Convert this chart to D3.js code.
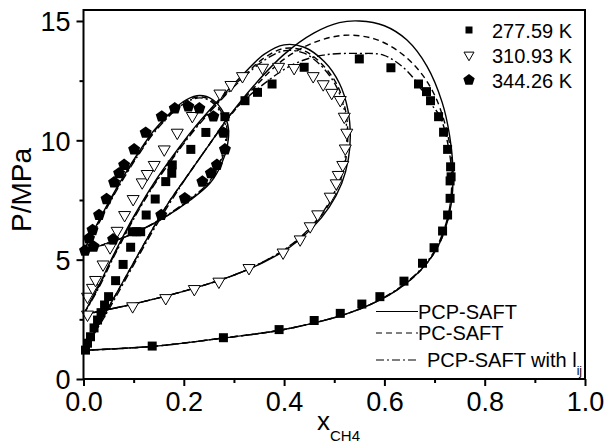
<!DOCTYPE html>
<html>
<head>
<meta charset="utf-8">
<script src="https://cdn.jsdelivr.net/npm/d3@7"></script>
<style>
  html, body { margin: 0; padding: 0; background: #fff; }
  svg { display: block; font-family: "Liberation Sans", Arial, sans-serif; }
</style>
</head>
<body>
<svg id="chart" width="608" height="445"></svg>
<script>
// Tick values and labels
const xTicks = [0, 0.2, 0.4, 0.6, 0.8, 1.0];
const xMinor = [0.1, 0.3, 0.5, 0.7, 0.9];
const yTicks = [0, 5, 10, 15];
const yMinor = [2.5, 7.5, 12.5];

// Experimental VLE data, [x_CH4, P/MPa]
const exp277 = [
  [0.004,1.21],[0.008,1.5],[0.014,1.77],[0.021,2.14],[0.028,2.47],[0.035,2.78],[0.042,3.1],[0.05,3.45],
  [0.064,4.12],[0.079,4.8],[0.094,5.52],[0.097,6.17],[0.106,6.17],[0.114,6.17],[0.125,6.87],[0.143,7.54],
  [0.164,8.27],[0.176,8.62],[0.177,8.97],[0.214,9.62],[0.244,10.33],[0.282,10.99],[0.322,11.66],[0.347,12.01],
  [0.376,12.36],[0.44,13.06],[0.55,13.41],[0.613,13.04],[0.668,12.36],[0.684,12.04],[0.692,11.66],[0.708,10.99],
  [0.718,10.34],[0.726,9.62],[0.732,8.89],[0.733,8.47],[0.731,8.3],[0.731,7.57],[0.726,6.87],[0.716,6.2],
  [0.699,5.5],[0.676,4.85],[0.639,4.1],[0.591,3.45],[0.555,3.14],[0.512,2.75],[0.46,2.45],[0.39,2.07],
  [0.279,1.73],[0.137,1.38]
];
const exp311 = [
  [0.008,2.7],[0.008,3.45],[0.018,3.82],[0.024,4.15],[0.039,4.8],[0.053,5.52],[0.067,6.21],[0.082,6.87],
  [0.099,7.54],[0.117,8.24],[0.127,8.59],[0.141,8.97],[0.161,9.62],[0.187,10.32],[0.217,11.02],[0.272,11.96],
  [0.294,12.32],[0.317,12.69],[0.357,13.04],[0.389,13.08],[0.42,13.03],[0.458,12.69],[0.478,12.35],[0.495,11.99],
  [0.512,11.69],[0.52,10.99],[0.525,10.32],[0.522,9.66],[0.517,8.97],[0.508,8.55],[0.504,8.2],[0.492,7.64],
  [0.467,6.9],[0.452,6.4],[0.432,5.85],[0.398,5.3],[0.33,4.65],[0.27,4.08],[0.221,3.77],[0.164,3.39],[0.098,3.05]
];
const exp344 = [
  [0.003,5.38],[0.011,5.89],[0.018,6.24],[0.031,6.87],[0.046,7.54],[0.061,8.24],[0.071,8.62],[0.081,8.97],
  [0.101,9.62],[0.124,10.32],[0.156,11.0],[0.182,11.34],[0.209,11.42],[0.231,11.34],[0.259,11.0],[0.279,10.32],
  [0.282,9.62],[0.266,8.97],[0.254,8.62],[0.237,8.27],[0.202,7.57],[0.155,6.87],[0.059,5.85],[0.02,5.55]
];

// Model phase envelopes, [x_CH4, P/MPa]
const pcpSaft277 = [
  [0.0,1.2],[0.02,1.9],[0.05,3.0],[0.09,4.5],[0.13,6.0],[0.17,7.4],[0.21,8.6],[0.25,9.8],[0.29,11.0],
  [0.34,12.3],[0.40,13.6],[0.46,14.5],[0.51,14.93],[0.55,15.0],[0.6,14.8],[0.645,14.2],[0.685,13.1],
  [0.715,11.6],[0.73,10.2],[0.737,8.6],[0.733,7.3],[0.72,6.2],[0.70,5.3],[0.67,4.5],[0.63,3.8],[0.58,3.2],
  [0.52,2.7],[0.45,2.3],[0.38,2.0],[0.28,1.72],[0.14,1.37],[0.0,1.2]
];
const pcSaft277 = [
  [0.0,1.2],[0.02,1.9],[0.05,3.0],[0.09,4.5],[0.13,6.0],[0.17,7.4],[0.21,8.6],[0.25,9.8],[0.29,10.95],
  [0.34,12.2],[0.40,13.4],[0.46,14.1],[0.52,14.4],[0.58,14.25],[0.63,13.7],[0.67,12.9],[0.70,11.9],
  [0.722,10.6],[0.734,9.3],[0.736,8.4],[0.732,7.3],[0.72,6.2],[0.70,5.3],[0.67,4.5],[0.63,3.8],[0.58,3.2],
  [0.52,2.7],[0.45,2.3],[0.38,2.0],[0.28,1.72],[0.14,1.37],[0.0,1.2]
];
const pcpLij277 = [
  [0.0,1.2],[0.02,1.85],[0.05,2.9],[0.09,4.4],[0.13,5.9],[0.17,7.3],[0.21,8.6],[0.25,9.8],[0.30,11.25],
  [0.365,12.45],[0.42,13.2],[0.478,13.57],[0.551,13.64],[0.598,13.57],[0.635,13.1],[0.66,12.55],[0.69,11.6],
  [0.711,10.99],[0.727,9.8],[0.734,8.6],[0.731,7.3],[0.718,6.2],[0.698,5.3],[0.668,4.5],[0.628,3.8],
  [0.58,3.2],[0.52,2.7],[0.45,2.3],[0.38,2.0],[0.28,1.72],[0.14,1.37],[0.0,1.2]
];
const pcpSaft311 = [
  [0.0,2.7],[0.03,3.9],[0.06,5.2],[0.10,6.8],[0.14,8.2],[0.18,9.4],[0.22,10.5],[0.27,11.7],[0.32,12.8],
  [0.36,13.6],[0.40,14.0],[0.44,13.9],[0.48,13.3],[0.51,12.4],[0.527,11.3],[0.532,10.2],[0.528,9.2],
  [0.515,8.2],[0.49,7.2],[0.455,6.3],[0.41,5.5],[0.36,4.9],[0.3,4.35],[0.22,3.8],[0.15,3.4],[0.08,3.05],[0.0,2.7]
];
const pcSaft311 = [
  [0.0,2.7],[0.03,3.85],[0.06,5.15],[0.10,6.75],[0.14,8.15],[0.18,9.35],[0.22,10.45],[0.27,11.65],[0.32,12.7],
  [0.36,13.45],[0.40,13.85],[0.44,13.75],[0.475,13.2],[0.505,12.35],[0.522,11.3],[0.527,10.2],[0.523,9.2],
  [0.51,8.2],[0.486,7.2],[0.452,6.3],[0.408,5.5],[0.358,4.9],[0.3,4.35],[0.22,3.8],[0.15,3.4],[0.08,3.05],[0.0,2.7]
];
const pcpLij311 = [
  [0.0,2.7],[0.03,3.8],[0.06,5.1],[0.10,6.7],[0.14,8.1],[0.18,9.3],[0.22,10.4],[0.27,11.6],[0.32,12.65],
  [0.36,13.35],[0.40,13.75],[0.44,13.65],[0.475,13.1],[0.503,12.3],[0.52,11.3],[0.525,10.2],[0.521,9.2],
  [0.508,8.2],[0.484,7.2],[0.45,6.3],[0.406,5.5],[0.357,4.9],[0.3,4.35],[0.22,3.8],[0.15,3.4],[0.08,3.05],[0.0,2.7]
];
const pcpSaft344 = [
  [0.0,5.35],[0.02,6.2],[0.05,7.4],[0.08,8.5],[0.11,9.5],[0.14,10.4],[0.175,11.2],[0.205,11.7],[0.232,11.88],
  [0.258,11.7],[0.278,11.2],[0.289,10.5],[0.287,9.8],[0.275,9.0],[0.252,8.2],[0.21,7.45],[0.16,6.75],
  [0.1,6.1],[0.05,5.7],[0.0,5.35]
];
const pcSaft344 = [
  [0.0,5.35],[0.02,6.15],[0.05,7.35],[0.08,8.45],[0.11,9.45],[0.14,10.35],[0.175,11.15],[0.205,11.65],[0.232,11.82],
  [0.257,11.65],[0.276,11.15],[0.286,10.5],[0.284,9.8],[0.272,9.0],[0.25,8.2],[0.208,7.45],[0.16,6.75],
  [0.1,6.1],[0.05,5.7],[0.0,5.35]
];
const pcpLij344 = [
  [0.0,5.35],[0.02,6.1],[0.05,7.3],[0.08,8.4],[0.11,9.4],[0.14,10.3],[0.175,11.1],[0.205,11.6],[0.232,11.78],
  [0.256,11.6],[0.275,11.1],[0.284,10.5],[0.282,9.8],[0.27,9.0],[0.248,8.2],[0.206,7.45],[0.158,6.75],
  [0.1,6.1],[0.05,5.7],[0.0,5.35]
];

const seriesNames = ["277.59 K", "310.93 K", "344.26 K"];
const modelNames = ["PCP-SAFT", "PC-SAFT", "PCP-SAFT with l"];

const svg = d3.select("#chart");
const x = d3.scaleLinear().domain([0, 1]).range([83.5, 585]);
const y = d3.scaleLinear().domain([0, 15.46]).range([379, 10]);

const dashes = { solid: null, dash: "6,4", dashdot: "8,3,2,3" };

// Model curves
const line = d3.line().x(d => x(d[0])).y(d => y(d[1])).curve(d3.curveCatmullRom.alpha(0.5));
const curves = [
  [pcpSaft277, "solid"], [pcSaft277, "dash"], [pcpLij277, "dashdot"],
  [pcpSaft311, "solid"], [pcSaft311, "dash"], [pcpLij311, "dashdot"],
  [pcpSaft344, "solid"], [pcSaft344, "dash"], [pcpLij344, "dashdot"]
];
const gCurves = svg.append("g");
curves.forEach(([pts, style]) => {
  gCurves.append("path").attr("d", line(pts))
    .attr("fill", "none").attr("stroke", "#000").attr("stroke-width", 1.4)
    .attr("stroke-dasharray", dashes[style]);
});

// Marker shapes
const pentagon = r => {
  const pts = d3.range(5).map(i => {
    const a = -Math.PI / 2 + i * 2 * Math.PI / 5;
    return [r * Math.cos(a), r * Math.sin(a)];
  });
  return "M" + pts.map(p => p.join(",")).join("L") + "Z";
};
const square = s => d3.symbol(d3.symbolSquare, s * s)();
const triDown = s => {
  const h = s * Math.sqrt(3) / 2;
  return `M${-s / 2},${-h / 3}L${s / 2},${-h / 3}L0,${2 * h / 3}Z`;
};

const marks = [
  { data: exp277, path: square(9), fill: "#000", stroke: "none" },
  { data: exp311, path: triDown(12), fill: "#fff", stroke: "#000" },
  { data: exp344, path: pentagon(6.3), fill: "#000", stroke: "none" }
];
marks.forEach(m => {
  svg.append("g").selectAll("path").data(m.data).join("path")
    .attr("transform", d => `translate(${x(d[0])},${y(d[1])})`)
    .attr("d", m.path).attr("fill", m.fill).attr("stroke", m.stroke).attr("stroke-width", 1);
});

// Axes
const fontTick = 27;
svg.append("g").attr("transform", "translate(0,379)")
  .call(d3.axisBottom(x).tickValues(xTicks).tickFormat(d3.format(".1f")).tickSize(7).tickPadding(6));
svg.append("g").attr("transform", "translate(0,379)")
  .call(d3.axisBottom(x).tickValues(xMinor).tickFormat("").tickSize(4));
const gy = svg.append("g").attr("transform", "translate(83.5,0)")
  .call(d3.axisLeft(y).tickValues(yTicks).tickFormat(d3.format("d")).tickSize(7).tickPadding(6));
svg.append("g").attr("transform", "translate(83.5,0)")
  .call(d3.axisLeft(y).tickValues(yMinor).tickFormat("").tickSize(4));
svg.selectAll(".domain").remove();
svg.selectAll(".tick line").attr("stroke", "#000").attr("stroke-width", 2);
svg.selectAll(".tick text").attr("font-size", fontTick).attr("fill", "#000")
  .attr("font-family", "'Liberation Sans', Arial, sans-serif");
gy.selectAll(".tick text").attr("dy", "0.36em");

// Frame
svg.append("rect").attr("x", x(0)).attr("y", y(15.46))
  .attr("width", x(1) - x(0)).attr("height", y(0) - y(15.46))
  .attr("fill", "none").attr("stroke", "#000").attr("stroke-width", 2);

// Axis titles
svg.append("text").attr("transform", "translate(31,190) rotate(-90)")
  .attr("text-anchor", "middle").attr("font-size", 28).text("P/MPa");
const xt = svg.append("text").attr("x", 317).attr("y", 430).attr("font-size", 26);
xt.append("tspan").text("x");
xt.append("tspan").attr("font-size", 15).attr("dy", 11).text("CH4");

// Legend: experimental series
const legMarks = [square(7), triDown(10), pentagon(6)];
const legFill = ["#000", "#fff", "#000"];
seriesNames.forEach((name, i) => {
  const cy = 30 + i * 25;
  svg.append("path").attr("transform", `translate(469,${cy})`).attr("d", legMarks[i])
    .attr("fill", legFill[i]).attr("stroke", i === 1 ? "#000" : "none");
  svg.append("text").attr("x", 492).attr("y", cy + 7.5).attr("font-size", 20).text(name);
});

// Legend: models
const legStyles = ["solid", "dash", "dashdot"];
const legY = [311.5, 333, 360];
const legTx = [418, 418, 427];
modelNames.forEach((name, i) => {
  svg.append("line").attr("x1", 376).attr("x2", 418).attr("y1", legY[i]).attr("y2", legY[i])
    .attr("stroke", "#000").attr("stroke-width", 1.2).attr("stroke-dasharray", dashes[legStyles[i]]);
  const t = svg.append("text").attr("x", legTx[i]).attr("y", legY[i] + 7).attr("font-size", 20).text(name);
  if (i === 2) t.append("tspan").attr("font-size", 12).attr("dy", 8).text("ij");
});
</script>
</body>
</html>
